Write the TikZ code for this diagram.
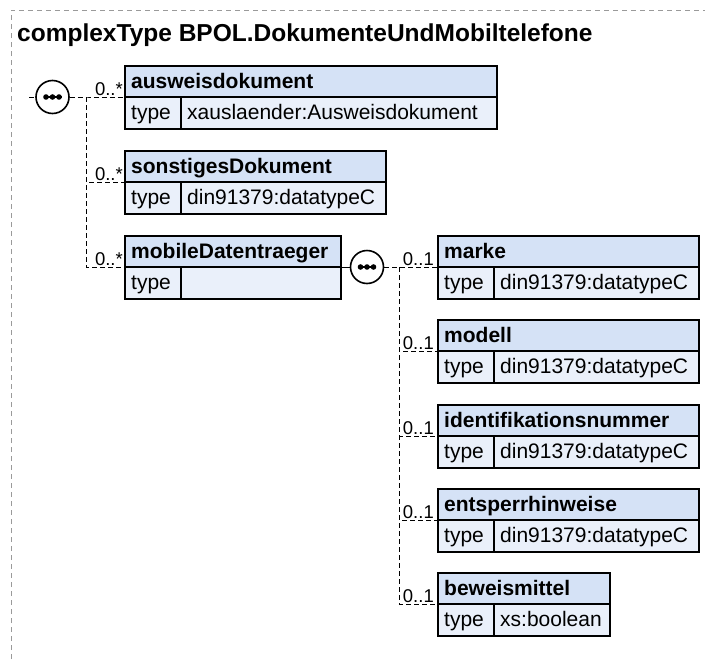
\documentclass[tikz,border=0pt]{standalone}
\usepackage{fontspec}
\setmainfont{Liberation Sans}
\usepackage{tikz}
\usetikzlibrary{calc,positioning}
\definecolor{hdrBlue}{HTML}{D5E2F6}
\definecolor{rowBlue}{HTML}{EAF0FA}
\definecolor{frameGray}{HTML}{9A9A9A}

% element box: id, x, y, total width, name, type
\newcommand{\xsdelem}[6]{%
  \node[hdr, minimum width=#4pt, anchor=north west] (#1) at (#2,#3) {};
  \node[elname, anchor=base west] (#1-name) at ([xshift=6pt,yshift=9pt]#1.south west) {#5};
  \node[cell, minimum width=56pt, anchor=north west] (#1-key) at (#1.south west) {};
  \node[celltxt, anchor=base west] (#1-keytxt) at ([xshift=6pt,yshift=10pt]#1-key.south west) {type};
  \node[cell, minimum width=#4pt-56pt, anchor=north west] (#1-val) at (#1-key.north east) {};
  \node[celltxt, anchor=base west] (#1-valtxt) at ([xshift=6pt,yshift=10pt]#1-val.south west) {#6};
}
% the three dots of a sequence symbol
\newcommand{\seqdots}[1]{%
  \draw[line width=1.3pt] ([xshift=-9pt]#1.center) -- ([xshift=9pt]#1.center);
  \foreach \dx in {-6.5,0,6.5} \fill ([xshift=\dx pt]#1.center) circle (2.8pt);
}

\begin{document}
\begin{tikzpicture}[
        x=1pt, y=-1pt,
        hdr/.style={draw=black, line width=1.3pt, fill=hdrBlue, minimum height=31pt, inner sep=0pt, outer sep=0pt},
        cell/.style={draw=black, line width=1.3pt, fill=rowBlue, minimum height=32pt, inner sep=0pt, outer sep=0pt},
        elname/.style={font=\fontsize{21}{24}\selectfont\bfseries, inner sep=0pt},
        celltxt/.style={font=\fontsize{21}{24}\selectfont, inner sep=0pt},
        seq/.style={circle, draw=black, line width=1.6pt, fill=white, minimum size=33pt, inner sep=0pt},
        conn/.style={draw=black, line width=1pt, dash pattern=on 5pt off 3pt},
        link/.style={draw=black, line width=1pt},
        mult/.style={font=\fontsize{18.5}{22}\selectfont, anchor=base east, inner sep=0pt},
        frame/.style={draw=frameGray, line width=1pt, dash pattern=on 5pt off 4pt}
    ]
        \useasboundingbox (0,0) rectangle (707,659);

        % --- outer frame and title ---
        \draw[frame] (11,659) -- (11,10) -- (705,10);
        \node[font=\fontsize{24.5}{28}\selectfont\bfseries, anchor=base west, inner sep=0pt] (title) at (17,41) {complexType BPOL.DokumenteUndMobiltelefone};

        % --- top level sequence ---
        \coordinate (in1) at (29,97);
        \node[seq] (seqA) at (52.5,97) {};
        \seqdots{seqA}
        \coordinate (forkA) at (86,97);

        \xsdelem{aus}{125}{66}{372}{ausweisdokument}{xauslaender:Ausweisdokument}
        \xsdelem{son}{125}{151}{261}{sonstigesDokument}{din91379:datatypeC}
        \xsdelem{mob}{125}{236}{216}{mobileDatentraeger}{}

        \draw[conn] (in1) -- (seqA.west);
        \draw[conn] (seqA.east) -- (forkA) -- (aus.south west);
        \draw[conn] (forkA) |- (son.south west);
        \draw[conn] (forkA) |- (mob.south west);
        \node[mult] (aus-m) at ([xshift=-2pt,yshift=2pt]aus.south west) {0..*};
        \node[mult] (son-m) at ([xshift=-2pt,yshift=2pt]son.south west) {0..*};
        \node[mult] (mob-m) at ([xshift=-2pt,yshift=2pt]mob.south west) {0..*};

        % --- content of mobileDatentraeger ---
        \node[seq] (seqB) at (367,267) {};
        \seqdots{seqB}
        \draw[link] (mob.south east) -- (seqB.west);
        \coordinate (forkB) at (399,267);

        \xsdelem{mar}{438}{236}{261}{marke}{din91379:datatypeC}
        \xsdelem{mod}{438}{320}{261}{modell}{din91379:datatypeC}
        \xsdelem{ide}{438}{405}{261}{identifikationsnummer}{din91379:datatypeC}
        \xsdelem{ent}{438}{489}{261}{entsperrhinweise}{din91379:datatypeC}
        \xsdelem{bew}{438}{573}{172}{beweismittel}{xs:boolean}

        \draw[conn] (seqB.east) -- (forkB) -- (mar.south west);
        \foreach \el in {mod,ide,ent,bew}
            \draw[conn] (forkB) |- (\el.south west);
        \foreach \el in {mar,mod,ide,ent,bew}
            \node[mult] (\el-m) at ([xshift=-4pt,yshift=2pt]\el.south west) {0..1};
    \end{tikzpicture}
\end{document}
